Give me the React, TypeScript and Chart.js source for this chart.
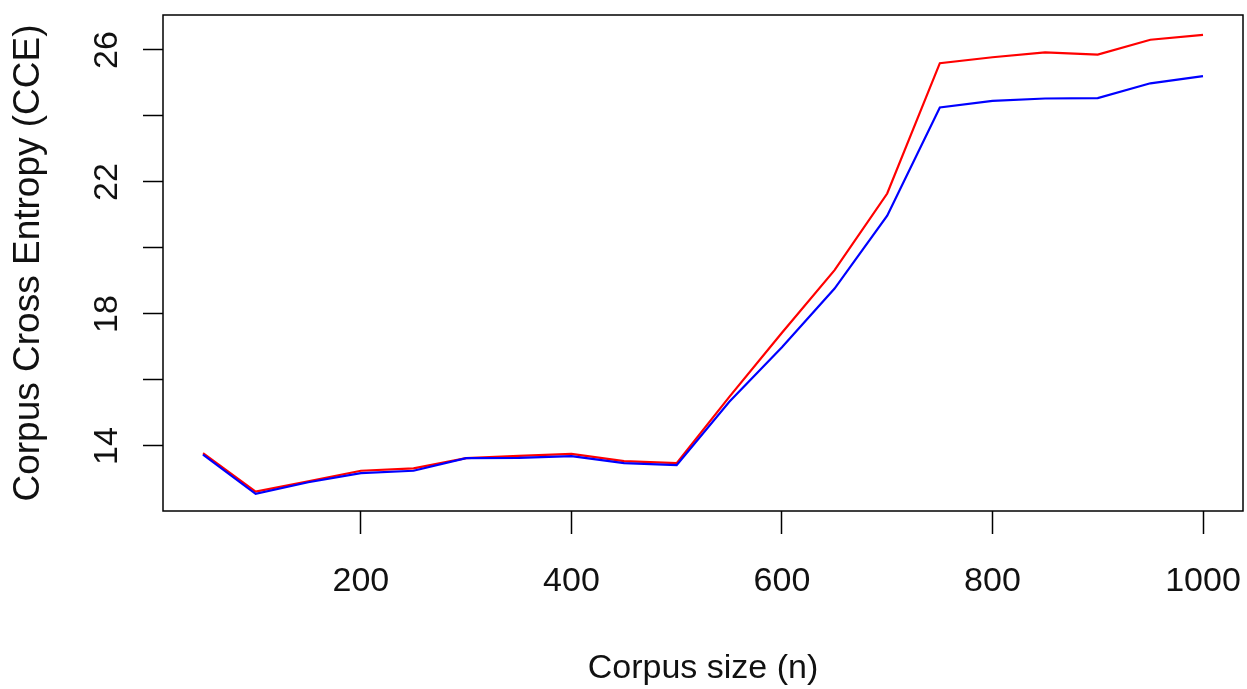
import React, { useEffect, useRef } from 'react';
import { Chart, registerables } from 'chart.js';

Chart.register(...registerables);

const corpusSizes = [50, 100, 150, 200, 250, 300, 350, 400, 450, 500, 550, 600, 650, 700, 750, 800, 850, 900, 950, 1000];
const cceRed = [13.78, 12.62, 12.93, 13.25, 13.32, 13.63, 13.70, 13.76, 13.54, 13.48, 15.49, 17.43, 19.33, 21.65, 25.60, 25.78, 25.93, 25.86, 26.31, 26.46];
const cceBlue = [13.74, 12.55, 12.90, 13.18, 13.25, 13.63, 13.64, 13.69, 13.48, 13.42, 15.34, 16.99, 18.77, 20.98, 24.26, 24.46, 24.53, 24.54, 24.99, 25.21];
const xTickValues = [200, 400, 600, 800, 1000];
const yTickValues = [14, 16, 18, 20, 22, 24, 26];
const yTickLabels = [14, 18, 22, 26];

const FONT = '"Liberation Sans", Arial, Helvetica, sans-serif';

export default function App() {
  const ref = useRef<HTMLCanvasElement | null>(null);

  useEffect(() => {
    document.body.style.margin = '0';
    const canvas = ref.current;
    if (!canvas) return;

    const boxPlugin = {
      id: 'rbox',
      afterDraw(chart: any) {
        const { ctx, chartArea: a } = chart;
        ctx.save();
        ctx.strokeStyle = '#000';
        ctx.lineWidth = 1.5;
        ctx.strokeRect(a.left, a.top, a.right - a.left, a.bottom - a.top);
        const ys = chart.scales.y;
        ctx.fillStyle = '#111';
        ctx.font = `34px ${FONT}`;
        ctx.textAlign = 'center';
        ctx.textBaseline = 'alphabetic';
        for (const v of yTickLabels) {
          const y = ys.getPixelForValue(v);
          ctx.save();
          ctx.translate(a.left - 46, y);
          ctx.rotate(-Math.PI / 2);
          ctx.fillText(String(v), 0, 0);
          ctx.restore();
        }
        ctx.restore();
      },
    };

    const chart = new Chart(canvas, {
      type: 'line',
      data: {
        datasets: [
          {
            label: 'blue',
            data: corpusSizes.map((x, i) => ({ x, y: cceBlue[i] })),
            borderColor: '#0000FF',
            borderWidth: 2.2,
            pointRadius: 0,
            tension: 0,
            fill: false,
          },
          {
            label: 'red',
            data: corpusSizes.map((x, i) => ({ x, y: cceRed[i] })),
            borderColor: '#FF0000',
            borderWidth: 2.2,
            pointRadius: 0,
            tension: 0,
            fill: false,
          },
        ],
      },
      options: {
        responsive: false,
        animation: false,
        devicePixelRatio: 1,
        layout: { padding: { top: 15, right: 4, left: 0, bottom: 0 } },
        plugins: { legend: { display: false }, tooltip: { enabled: false } },
        scales: {
          x: {
            type: 'linear',
            min: 12,
            max: 1038,
            afterBuildTicks: (s: any) => {
              s.ticks = xTickValues.map((value) => ({ value }));
            },
            afterFit: (s: any) => {
              s.height = 178;
              s.paddingLeft = 0;
              s.paddingRight = 0;
            },
            ticks: {
              callback: (v: any) => String(v),
              font: { size: 34, family: FONT },
              color: '#111',
              padding: 27,
              maxRotation: 0,
              minRotation: 0,
              autoSkip: false,
            },
            grid: {
              drawOnChartArea: false,
              drawTicks: true,
              tickLength: 23,
              tickColor: '#000',
              tickWidth: 1.5,
            },
            border: { display: false },
            title: {
              display: true,
              text: 'Corpus size (n)',
              font: { size: 34, family: FONT },
              color: '#111',
              padding: 0,
            },
          },
          y: {
            type: 'linear',
            min: 12.03,
            max: 27.06,
            afterBuildTicks: (s: any) => {
              s.ticks = yTickValues.map((value) => ({ value }));
            },
            afterFit: (s: any) => {
              s.width = 163;
              s.paddingTop = 0;
              s.paddingBottom = 0;
            },
            ticks: {
              callback: () => '',
              font: { size: 34, family: FONT },
            },
            grid: {
              drawOnChartArea: false,
              drawTicks: true,
              tickLength: 20,
              tickColor: '#000',
              tickWidth: 1.5,
            },
            border: { display: false },
            title: {
              display: true,
              text: 'Corpus Cross Entropy (CCE)',
              font: { size: 37, family: FONT },
              color: '#111',
              padding: 7,
            },
          },
        },
      },
      plugins: [boxPlugin],
    });

    return () => chart.destroy();
  }, []);

  return (
    <div style={{ width: 1247, height: 689, position: 'relative' }}>
      <canvas ref={ref} width={1247} height={689} style={{ display: 'block' }} />
    </div>
  );
}
